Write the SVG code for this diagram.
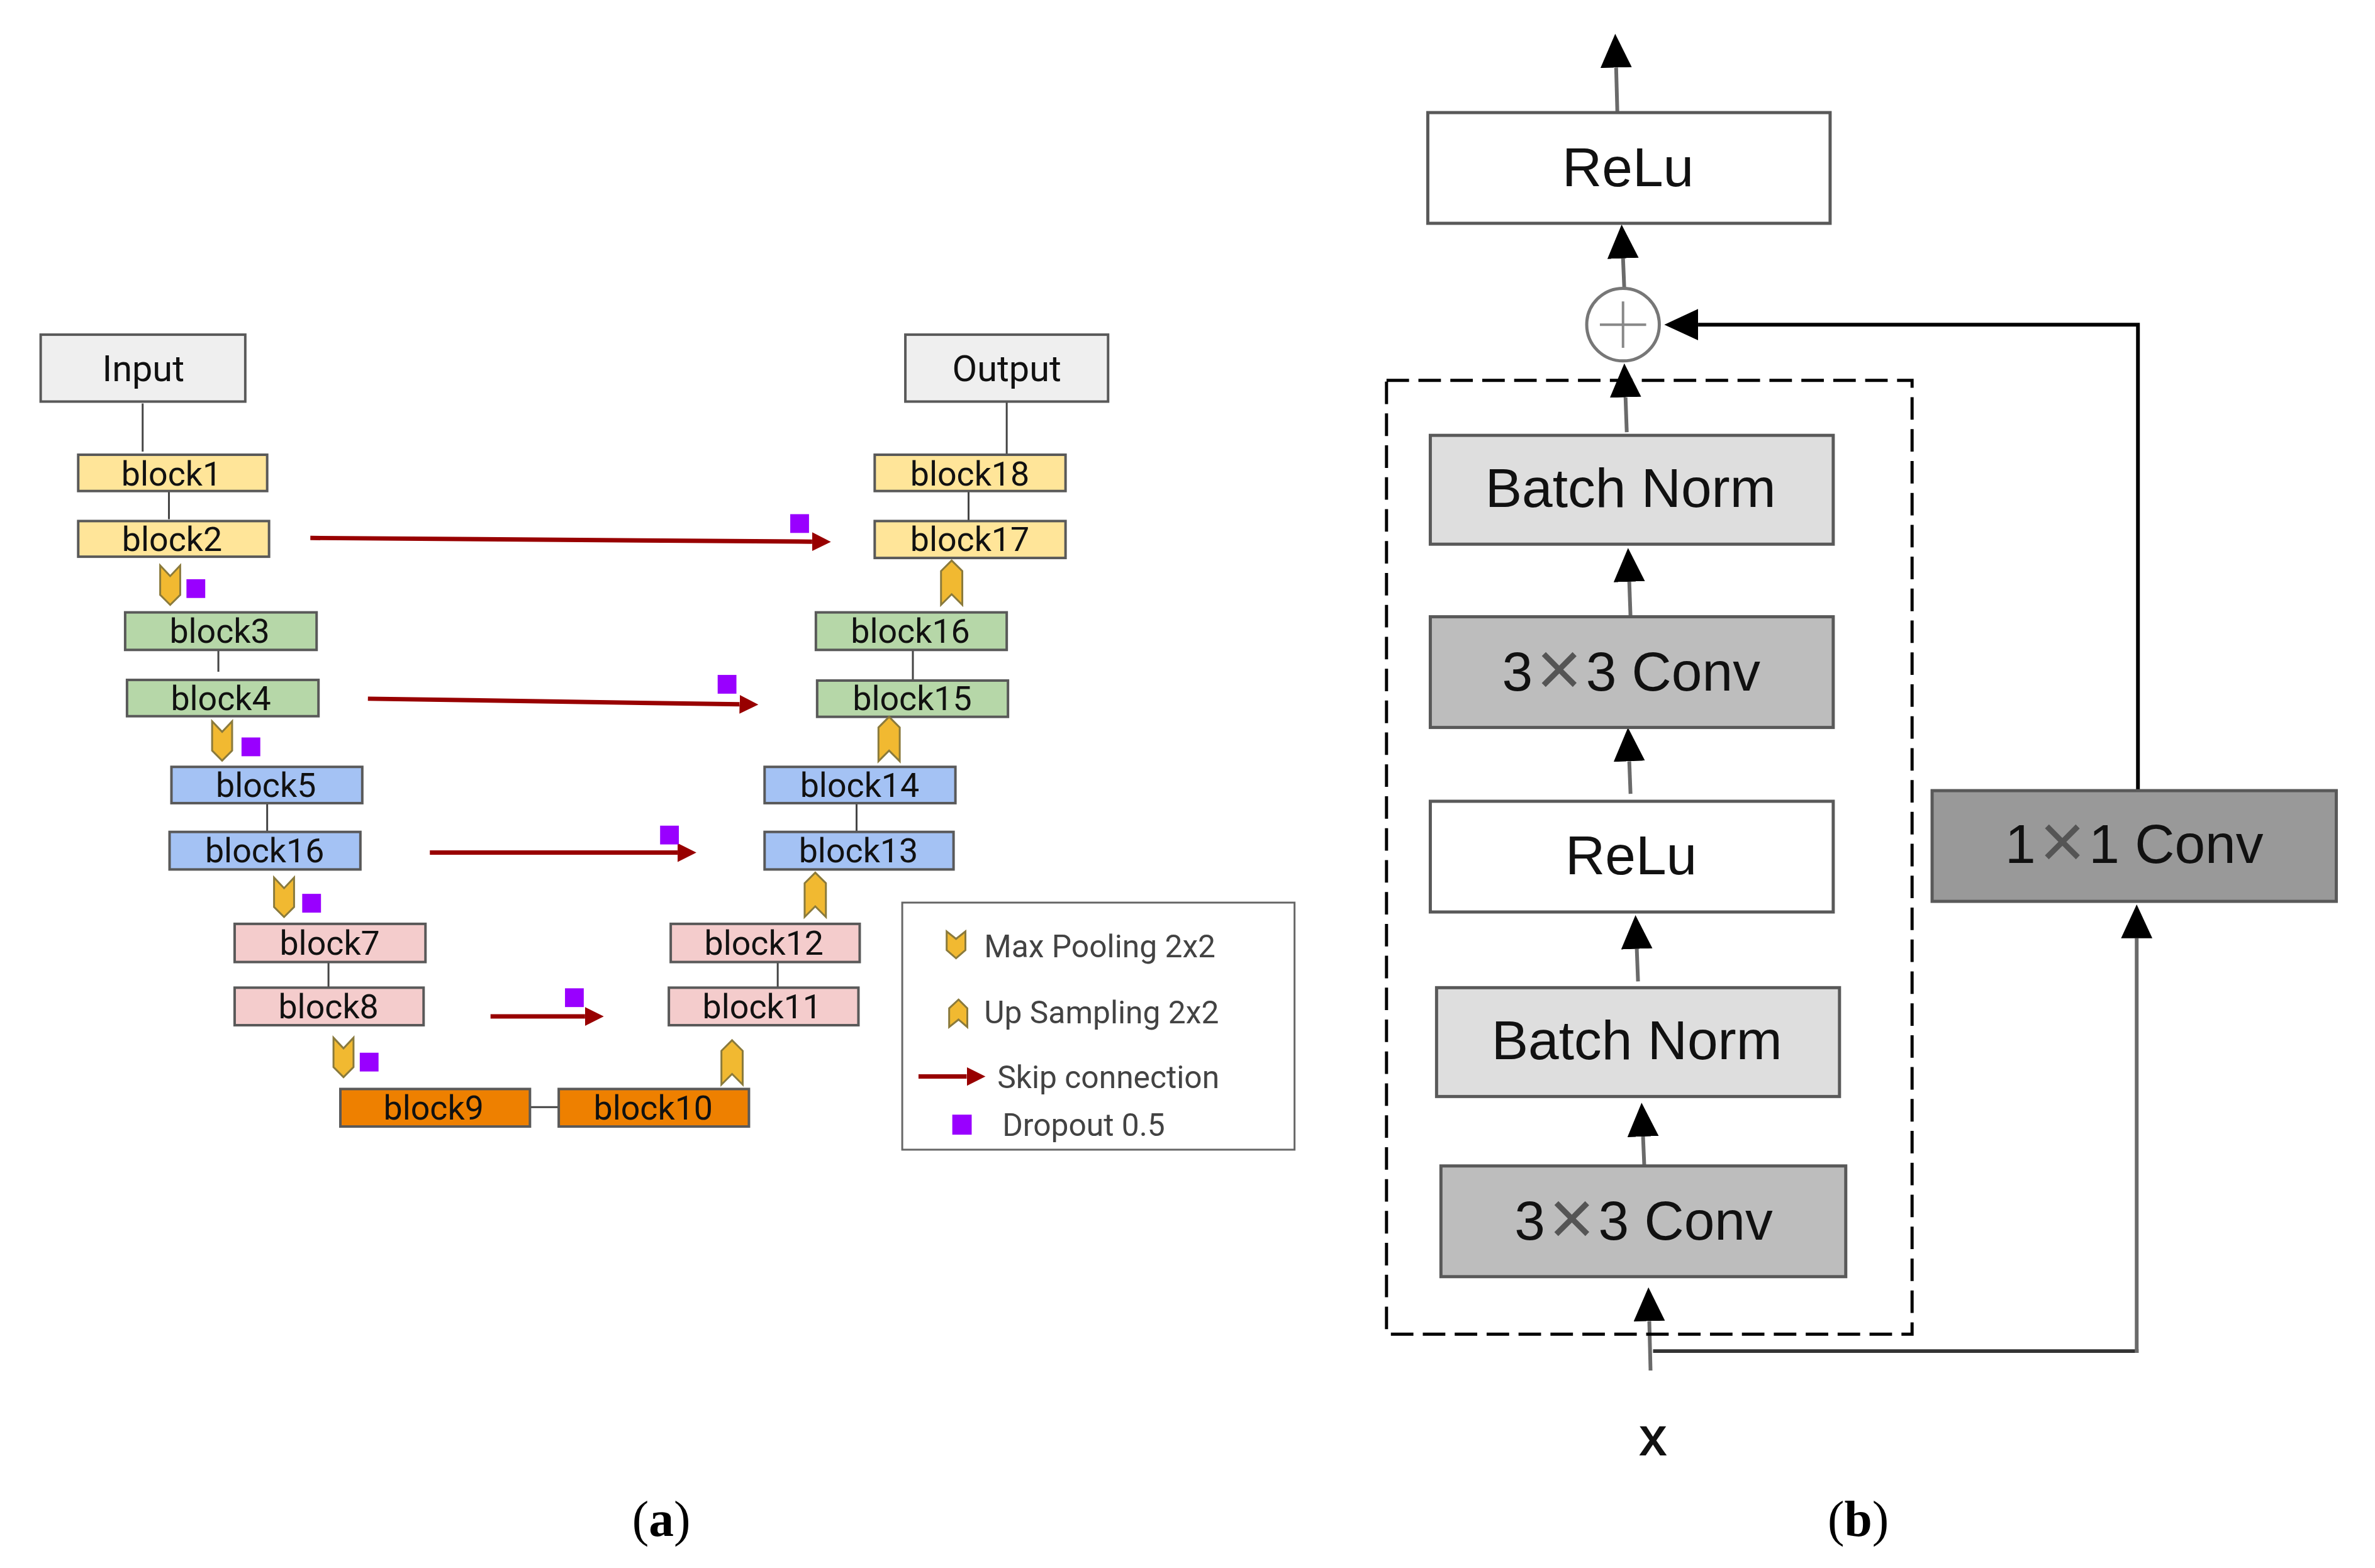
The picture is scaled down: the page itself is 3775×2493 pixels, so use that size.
<svg xmlns="http://www.w3.org/2000/svg" width="3775" height="2493" viewBox="0 0 3775 2493">
<style>
text{font-family:"Liberation Sans",Arial,sans-serif;text-anchor:middle;fill:#111}
.b{stroke:#595959;stroke-width:4}
.bt{font-family:Roboto,"Liberation Sans",sans-serif;font-size:54px}
.nt{font-family:Roboto,"Liberation Sans",sans-serif;font-size:58px}
.y{fill:#ffe599}.g{fill:#b6d7a8}.bl{fill:#a4c2f4}.p{fill:#f4cccc}.o{fill:#ee8000}
.n{fill:#efefef}
.c{fill:#f1b931;stroke:#8a7a3c;stroke-width:3}
.d{fill:#9900ff}
.lt{font-family:Roboto,"Liberation Sans",sans-serif;font-size:50px;fill:#434343;text-anchor:start}
.r{stroke:#595959;stroke-width:5}
.rt{font-size:88px}
.tm{font-size:125px;fill:#555}
.w{fill:#fff}.lg{fill:#dedede}.mg{fill:#bdbdbd}.dg{fill:#999}
.cn{stroke:#444;stroke-width:3;fill:none}
.sk{stroke:#980000;stroke-width:7;fill:none;marker-end:url(#ra)}
.ar{stroke:#6a6a6a;stroke-width:6;fill:none;marker-end:url(#ba)}
.cap{font-family:"Liberation Serif","Times New Roman",serif;font-size:80px;fill:#000}
</style>
<defs>
<marker id="ra" markerUnits="userSpaceOnUse" markerWidth="40" markerHeight="40" refX="0" refY="15" orient="auto"><path d="M0,0L30,15L0,30Z" fill="#980000"/></marker>
<marker id="ba" markerUnits="userSpaceOnUse" markerWidth="70" markerHeight="60" refX="0" refY="25" orient="auto"><path d="M0,0L54,25L0,50Z" fill="#000"/></marker>
</defs>
<rect width="3775" height="2493" fill="#fff"/>
<g transform="translate(2,1) scale(0.9945)">
<g id="connectors">
<path class="cn" d="M226,644V721M268,781V829M347,1033V1073M425,1276V1329M523,1537V1578M845,1769H891M1607,641V726M1546,784V832M1457,1038V1087M1367,1283V1329M1241,1537V1578"/>
<path class="sk" d="M494,859L1296,865"/>
<path class="sk" d="M586,1116L1180,1125"/>
<path class="sk" d="M685,1362H1081"/>
<path class="sk" d="M782,1624H933"/>
<path class="sk" d="M1466,1720H1543"/>
<path class="ar" d="M2583,181L2581,107"/>
<path class="ar" d="M2594,460L2592,412"/>
<path class="ar" d="M2598,690L2596,634"/>
<path class="ar" d="M2604,985L2602,929"/>
<path class="ar" d="M2604,1268L2602,1216"/>
<path class="ar" d="M2616,1568L2614,1516"/>
<path class="ar" d="M2626,1863L2624,1816"/>
<path class="ar" d="M2636,2190L2634,2111"/>
<path d="M2640,2159H3416" stroke="#333" stroke-width="6" fill="none"/>
<path class="ar" d="M3413,2162V1499"/>
<path class="ar" d="M3415,1263V518H2712" style="stroke:#000"/>
<rect x="2214" y="607" width="840" height="1525" fill="none" stroke="#000" stroke-width="5" stroke-dasharray="36 15"/>
</g>
<g id="input"><rect class="b n" x="63" y="534" width="327" height="107"/><text class="nt" x="227" y="608">Input</text></g>
<g id="output"><rect class="b n" x="1445" y="534" width="324" height="107"/><text class="nt" x="1607" y="608">Output</text></g>
<g id="block1"><rect class="b y" x="123" y="726" width="302" height="58"/><text class="bt" x="272" y="775">block1</text></g>
<g id="block2"><rect class="b y" x="123" y="832" width="305" height="57"/><text class="bt" x="273" y="880">block2</text></g>
<g id="block3"><rect class="b g" x="198" y="978" width="306" height="60"/><text class="bt" x="349" y="1027">block3</text></g>
<g id="block4"><rect class="b g" x="201" y="1086" width="306" height="58"/><text class="bt" x="351" y="1134">block4</text></g>
<g id="block5"><rect class="b bl" x="272" y="1225" width="305" height="58"/><text class="bt" x="423" y="1273">block5</text></g>
<g id="block6"><rect class="b bl" x="269" y="1329" width="305" height="60"/><text class="bt" x="421" y="1378">block16</text></g>
<g id="block7"><rect class="b p" x="373" y="1476" width="305" height="61"/><text class="bt" x="525" y="1525">block7</text></g>
<g id="block8"><rect class="b p" x="373" y="1578" width="302" height="60"/><text class="bt" x="523" y="1627">block8</text></g>
<g id="block9"><rect class="b o" x="542" y="1740" width="303" height="60"/><text class="bt" x="691" y="1789">block9</text></g>
<g id="block10"><rect class="b o" x="891" y="1740" width="304" height="60"/><text class="bt" x="1042" y="1789">block10</text></g>
<g id="block11"><rect class="b p" x="1067" y="1578" width="303" height="60"/><text class="bt" x="1216" y="1627">block11</text></g>
<g id="block12"><rect class="b p" x="1070" y="1476" width="302" height="61"/><text class="bt" x="1219" y="1525">block12</text></g>
<g id="block13"><rect class="b bl" x="1220" y="1329" width="302" height="60"/><text class="bt" x="1370" y="1378">block13</text></g>
<g id="block14"><rect class="b bl" x="1220" y="1225" width="305" height="58"/><text class="bt" x="1372" y="1273">block14</text></g>
<g id="block15"><rect class="b g" x="1304" y="1087" width="305" height="58"/><text class="bt" x="1456" y="1134">block15</text></g>
<g id="block16r"><rect class="b g" x="1302" y="978" width="305" height="60"/><text class="bt" x="1453" y="1027">block16</text></g>
<g id="block17"><rect class="b y" x="1396" y="832" width="305" height="59"/><text class="bt" x="1548" y="880">block17</text></g>
<g id="block18"><rect class="b y" x="1396" y="726" width="305" height="58"/><text class="bt" x="1548" y="775">block18</text></g>
<g id="pool1"><polygon class="c" points="254,903 270,920 286,903 286,950 270,966 254,950"/><rect class="d" x="296" y="925" width="30" height="30"/></g>
<g id="pool2"><polygon class="c" points="337,1152 353,1169 369,1152 369,1199 353,1215 337,1199"/><rect class="d" x="384" y="1178" width="30" height="30"/></g>
<g id="pool3"><polygon class="c" points="436,1402 452,1419 468,1402 468,1449 452,1465 436,1449"/><rect class="d" x="481" y="1428" width="30" height="30"/></g>
<g id="pool4"><polygon class="c" points="531,1658 547,1675 563,1658 563,1705 547,1721 531,1705"/><rect class="d" x="573" y="1682" width="30" height="30"/></g>
<g id="up1"><polygon class="c" points="1502,912 1519,895 1536,912 1536,966 1519,949 1502,966"/></g>
<g id="up2"><polygon class="c" points="1402,1162 1419,1145 1436,1162 1436,1216 1419,1199 1402,1216"/></g>
<g id="up3"><polygon class="c" points="1284,1411 1301,1394 1318,1411 1318,1465 1301,1448 1284,1465"/></g>
<g id="up4"><polygon class="c" points="1151,1679 1168,1662 1185,1679 1185,1733 1168,1716 1151,1733"/></g>
<rect class="d" x="1261" y="821" width="30" height="30"/>
<rect class="d" x="1145" y="1078" width="30" height="30"/>
<rect class="d" x="1053" y="1319" width="30" height="30"/>
<rect class="d" x="901" y="1579" width="30" height="30"/>
<g id="legend"><rect x="1440" y="1442" width="627" height="395" fill="none" stroke="#666" stroke-width="3"/>
<polygon class="c" points="1511,1488 1526,1500 1541,1488 1541,1518 1526,1531 1511,1518"/>
<polygon class="c" points="1515,1611 1530,1597 1544,1611 1544,1641 1530,1629 1515,1641"/>
<rect class="d" x="1520" y="1781" width="31" height="32"/>
<text class="lt" x="1571" y="1529">Max Pooling 2x2</text>
<text class="lt" x="1571" y="1635">Up Sampling 2x2</text>
<text class="lt" x="1592" y="1739">Skip connection</text>
<text class="lt" x="1600" y="1815">Dropout 0.5</text>
</g>
<g id="relu-top"><rect class="r w" x="2280" y="179" width="643" height="177"/><text class="rt" x="2600" y="297">ReLu</text></g>
<g id="sum"><circle cx="2592" cy="518" r="58" fill="#fff" stroke="#777" stroke-width="5"/><path d="M2592,481V555M2555,518H2629" stroke="#888" stroke-width="4"/></g>
<g id="bn2"><rect class="r lg" x="2284" y="695" width="644" height="174"/><text class="rt" x="2604" y="809">Batch Norm</text></g>
<g id="conv2"><rect class="r mg" x="2284" y="985" width="644" height="177"/><text class="rt" x="2605" y="1103">3<tspan class="tm" dx="6" dy="8">×</tspan><tspan dx="6" dy="-8">3 Conv</tspan></text></g>
<g id="relu"><rect class="r w" x="2284" y="1280" width="644" height="177"/><text class="rt" x="2605" y="1397">ReLu</text></g>
<g id="bn1"><rect class="r lg" x="2294" y="1578" width="644" height="174"/><text class="rt" x="2614" y="1692">Batch Norm</text></g>
<g id="conv1"><rect class="r mg" x="2301" y="1863" width="647" height="177"/><text class="rt" x="2625" y="1981">3<tspan class="tm" dx="6" dy="8">×</tspan><tspan dx="6" dy="-8">3 Conv</tspan></text></g>
<g id="conv11"><rect class="r dg" x="3086" y="1263" width="646" height="177"/><text class="rt" x="3409" y="1379">1<tspan class="tm" dx="6" dy="8">×</tspan><tspan dx="6" dy="-8">1 Conv</tspan></text></g>
<text x="2640" y="2325" font-size="84" stroke="#111" stroke-width="2">x</text>
<text class="cap" x="1055" y="2454">(<tspan font-weight="bold">a</tspan>)</text>
<text class="cap" x="2968" y="2454">(<tspan font-weight="bold">b</tspan>)</text>
</g>
</svg>
